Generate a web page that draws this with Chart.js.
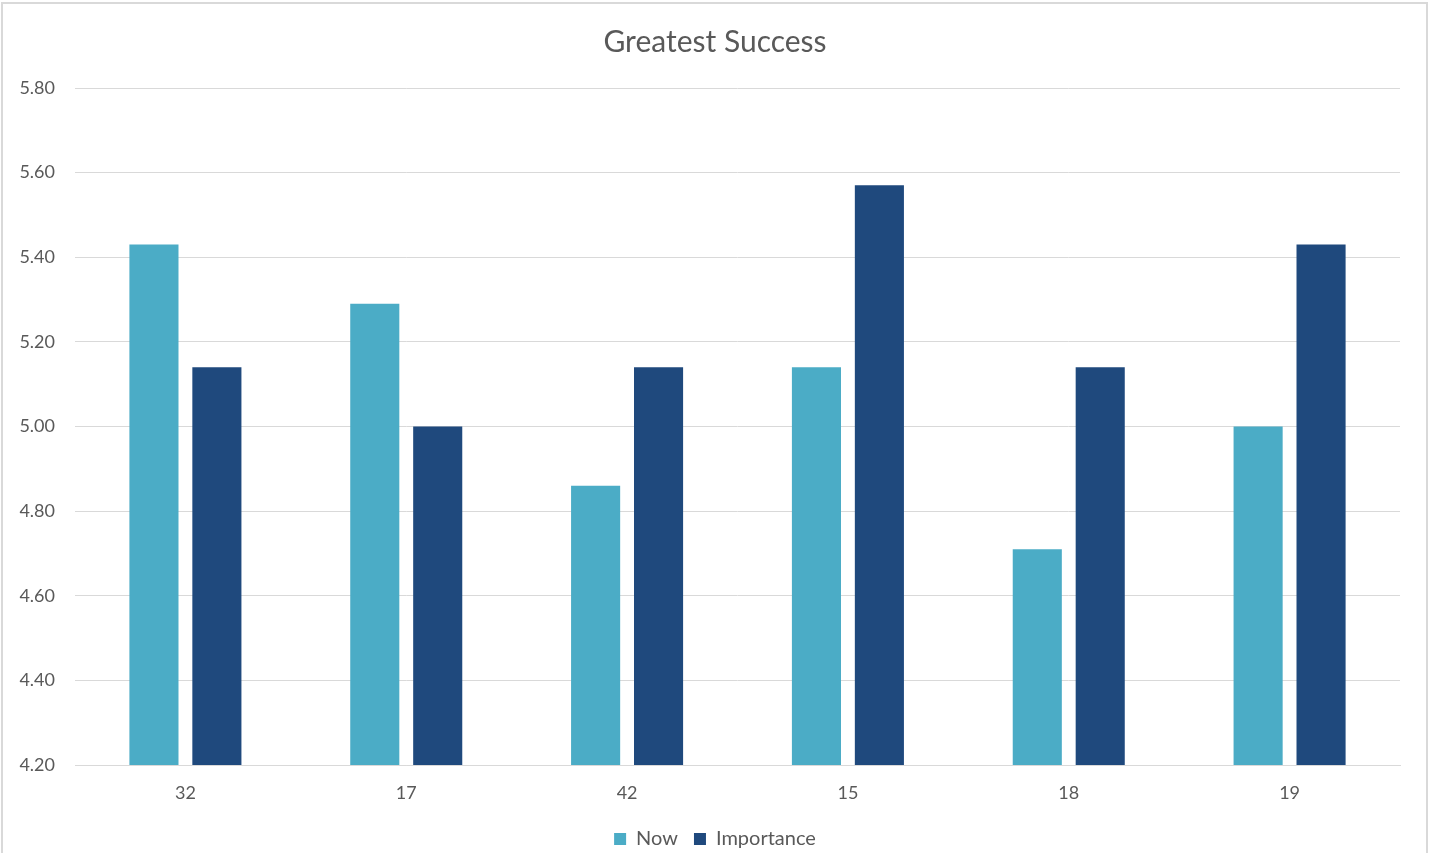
<!DOCTYPE html>
<html>
<head>
<meta charset="utf-8">
<script src="https://cdn.jsdelivr.net/npm/chart.js@4/dist/chart.umd.min.js"></script>
<style>
  html, body { margin: 0; padding: 0; background: #fff; }
  #wrap { position: relative; width: 1430px; height: 853px; overflow: hidden; }
  #frame { position: absolute; left: 1px; top: 2px; width: 1423px; height: 900px; border: 2px solid #d9d9d9; pointer-events: none; }
</style>
</head>
<body>
<div id="wrap">
  <canvas id="chart" width="1430" height="853"></canvas>
  <div id="frame"></div>
</div>
<script>
// data
const categories = ["32", "17", "42", "15", "18", "19"];
const nowValues = [5.43, 5.29, 4.86, 5.14, 4.71, 5.00];
const importanceValues = [5.14, 5.00, 5.14, 5.57, 5.14, 5.43];
const yTicks = [4.2, 4.4, 4.6, 4.8, 5.0, 5.2, 5.4, 5.6, 5.8];

const textColor = '#595959';
const gridColor = '#d9d9d9';
const fontFamily = 'Lato, "Open Sans", sans-serif';

const ctx = document.getElementById('chart').getContext('2d');

new Chart(ctx, {
  type: 'bar',
  data: {
    labels: categories,
    datasets: [{
      label: 'Now',
      data: nowValues,
      backgroundColor: '#4BACC6',
      categoryPercentage: 0.57,
      barPercentage: 0.78
    }, {
      label: 'Importance',
      data: importanceValues,
      backgroundColor: '#1F497D',
      categoryPercentage: 0.57,
      barPercentage: 0.78
    }]
  },
  options: {
    responsive: false,
    animation: false,
    layout: { padding: 0 },
    plugins: {
      title: {
        display: true,
        text: 'Greatest Success',
        color: textColor,
        font: { family: fontFamily, size: 30, weight: 'normal' },
        padding: { top: 24, bottom: 28 }
      },
      legend: {
        position: 'bottom',
        maxHeight: 40,
        labels: {
          color: textColor,
          font: { family: fontFamily, size: 20 },
          boxWidth: 12,
          boxHeight: 12,
          padding: 16
        }
      },
      tooltip: { enabled: false }
    },
    scales: {
      x: {
        grid: { display: false, drawTicks: false },
        border: { color: gridColor, width: 1 },
        ticks: { color: textColor, font: { family: fontFamily, size: 18 }, padding: 17 },
        afterFit: function (scale) { scale.height = 48; }
      },
      y: {
        min: 4.2,
        max: 5.8,
        afterBuildTicks: function (scale) {
          scale.ticks = yTicks.map(v => ({ value: v }));
        },
        grid: { color: gridColor, lineWidth: 1, drawTicks: false },
        border: { display: false },
        ticks: {
          color: textColor,
          font: { family: fontFamily, size: 18 },
          padding: 20,
          callback: v => Number(v).toFixed(2)
        },
        afterFit: function (scale) { scale.width = 75; }
      },
      // empty axis on the right, only keeps space so the title stays centred on the page
      yRight: {
        position: 'right',
        display: true,
        grid: { display: false, drawTicks: false },
        border: { display: false },
        ticks: { display: false },
        afterFit: function (scale) { scale.width = 30; }
      }
    }
  }
});
</script>
</body>
</html>
